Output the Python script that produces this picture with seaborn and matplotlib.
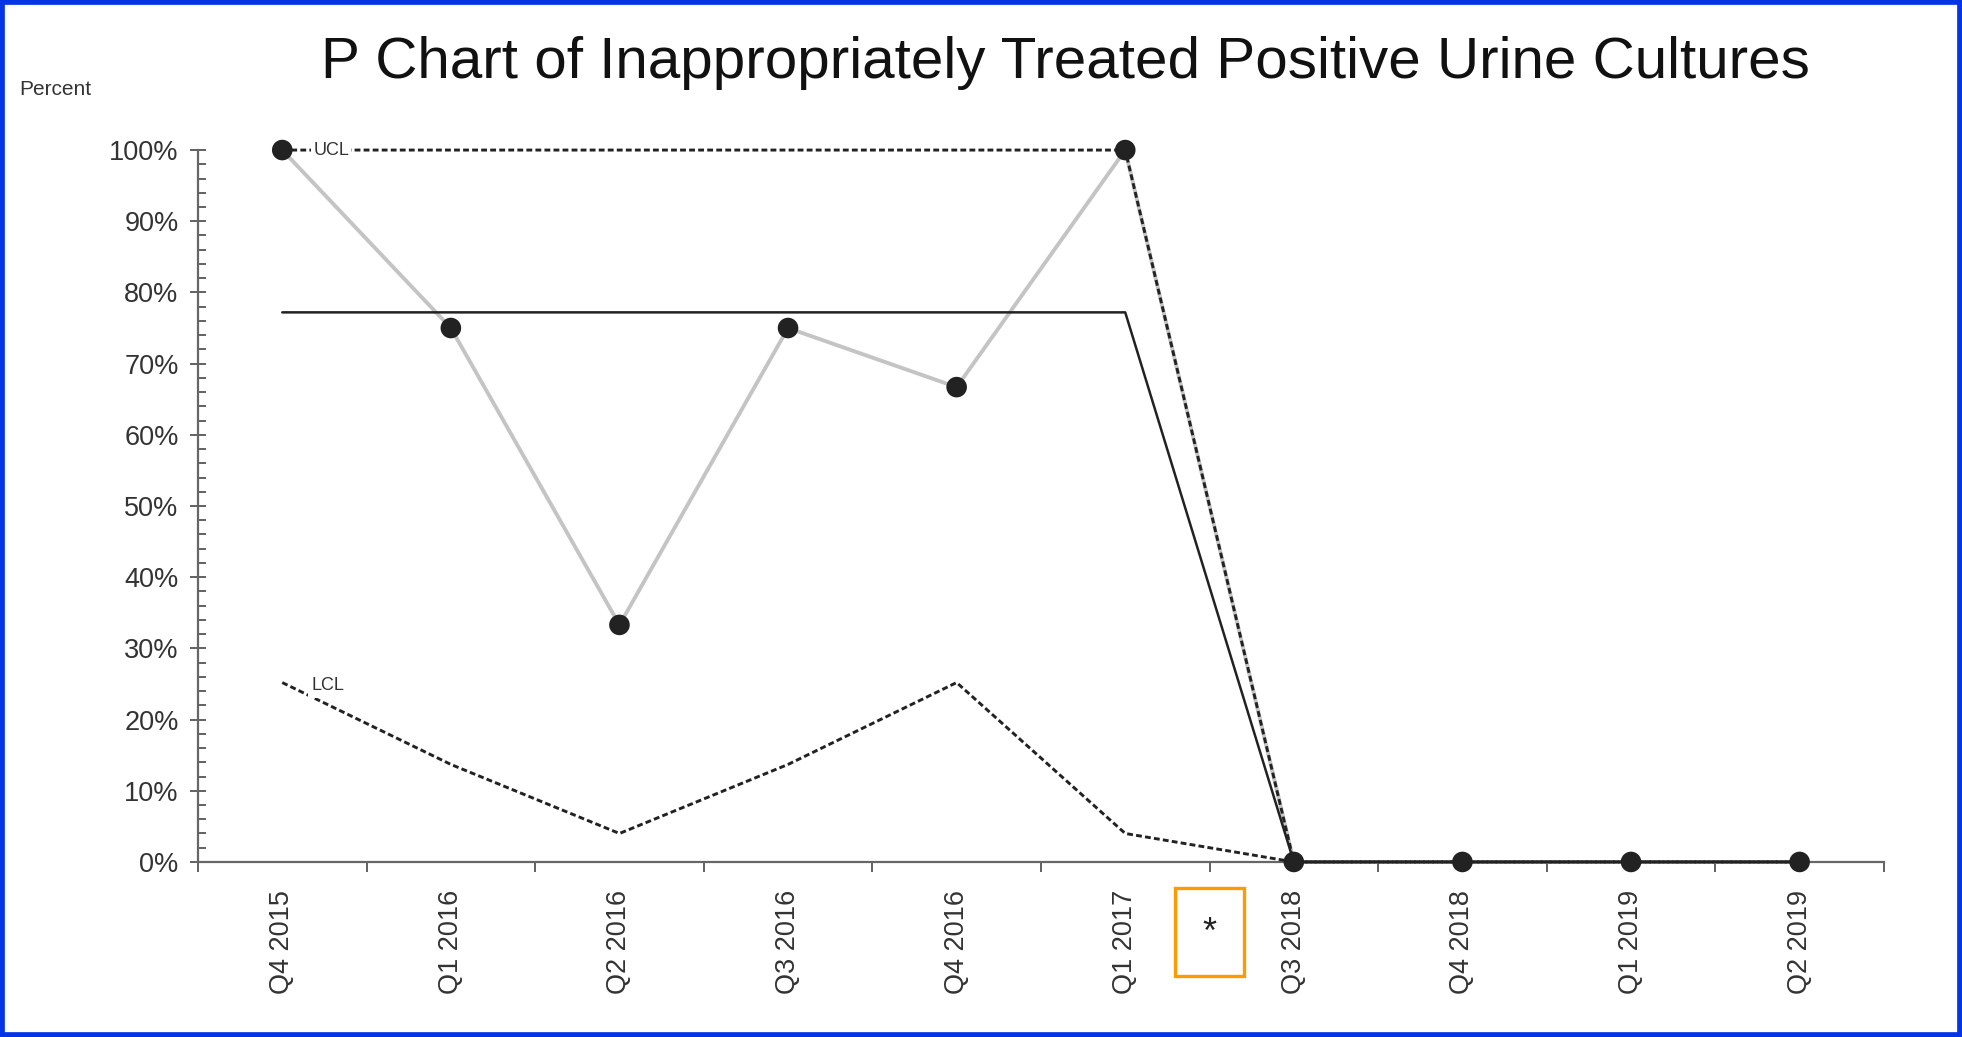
import numpy as np
import pandas as pd
import seaborn as sns
import matplotlib.pyplot as plt
from matplotlib.patches import Rectangle
from matplotlib.ticker import MultipleLocator, FixedLocator, PercentFormatter
import matplotlib.transforms as mtransforms

# data
quarters = ["Q4 2015", "Q1 2016", "Q2 2016", "Q3 2016", "Q4 2016",
            "Q1 2017", "Q3 2018", "Q4 2018", "Q1 2019", "Q2 2019"]
percent = [100, 75, 33.3, 75, 66.7, 100, 0, 0, 0, 0]
center = [77.2, 77.2, 77.2, 77.2, 77.2, 77.2, 0, 0, 0, 0]
ucl = [100, 100, 100, 100, 100, 100, 0, 0, 0, 0]
lcl = [25.2, 13.7, 4.0, 13.7, 25.2, 4.0, 0, 0, 0, 0]

df = pd.DataFrame({"pos": np.arange(len(quarters)), "quarter": quarters,
                   "percent": percent, "center": center, "ucl": ucl, "lcl": lcl})

sns.set_style("white")
plt.rcParams["font.family"] = ["Liberation Sans", "DejaVu Sans"]

fig = plt.figure(figsize=(19.62, 10.37), dpi=100)
ax = fig.add_axes([0.1009, 0.1688, 0.8593, 0.6865])

dash = (2, 1.1)
sns.lineplot(data=df, x="pos", y="percent", color="#c4c4c4", lw=2.8, ax=ax,
             zorder=2, clip_on=False)
sns.lineplot(data=df, x="pos", y="center", color="#222222", lw=1.8, ax=ax,
             zorder=3, clip_on=False)
sns.lineplot(data=df, x="pos", y="ucl", color="#222222", lw=2.1, ax=ax,
             zorder=4, clip_on=False)
sns.lineplot(data=df, x="pos", y="lcl", color="#222222", lw=2.1, ax=ax,
             zorder=4, clip_on=False)
for ln in ax.lines[2:4]:
    ln.set_dashes(dash)
sns.scatterplot(data=df, x="pos", y="percent", color="#222222", s=220,
                edgecolor="none", ax=ax, zorder=6, clip_on=False)

# UCL / LCL labels sitting on the dashed lines
ax.text(0.29, 100, "UCL", fontsize=13, color="#333333", ha="center",
        va="center", zorder=5,
        bbox=dict(boxstyle="square,pad=0.12", fc="white", ec="none"))
ax.text(0.27, 24.8, "LCL", fontsize=13, color="#333333", ha="center",
        va="center", zorder=5,
        bbox=dict(boxstyle="square,pad=0.2", fc="white", ec="none"))

ax.set_xlim(-0.5, len(quarters) - 0.5)
ax.set_ylim(0, 100)

ax.set_xticks(df["pos"])
ax.set_xticklabels(quarters, rotation=90, fontsize=19.5, color="#333333")
ax.xaxis.set_minor_locator(FixedLocator(np.arange(-0.5, len(quarters), 1)))
ax.tick_params(axis="x", which="major", bottom=True, length=0, pad=20)
ax.tick_params(axis="x", which="minor", bottom=True, direction="out",
               length=7, width=1.3, color="#555555")

ax.yaxis.set_major_locator(MultipleLocator(10))
ax.yaxis.set_minor_locator(MultipleLocator(2))
ax.yaxis.set_major_formatter(PercentFormatter(decimals=0))
ax.tick_params(axis="y", which="major", left=True, direction="inout",
               length=12, width=1.3, color="#555555", labelsize=19.5,
               labelcolor="#333333", pad=8)
ax.tick_params(axis="y", which="minor", left=True, direction="in", length=6,
               width=1.3, color="#555555")

sns.despine(ax=ax)
for side in ["left", "bottom"]:
    ax.spines[side].set_color("#666666")
    ax.spines[side].set_linewidth(1.6)
ax.set_xlabel("")
ax.set_ylabel("")

# marker for the missing period
trans = mtransforms.blended_transform_factory(ax.transData, ax.transAxes)
ax.add_patch(Rectangle((5.5 - 0.205, -0.160), 0.41, 0.124, transform=trans,
                       fill=False, ec="#FF9A00", lw=2.4, clip_on=False))
ax.text(5.5, -0.100, "*", transform=trans, fontsize=26, ha="center",
        va="center", color="#222222")

fig.text(0.543, 0.939, "P Chart of Inappropriately Treated Positive Urine Cultures",
         fontsize=42, ha="center", va="center", color="#111111")
fig.text(0.0097, 0.914, "Percent", fontsize=15, ha="left", va="center",
         color="#333333")

fig.patches.append(Rectangle((0, 0), 1, 1, transform=fig.transFigure,
                             fill=False, ec="#0434E4", lw=7))

fig.savefig("out.png", dpi=100)
